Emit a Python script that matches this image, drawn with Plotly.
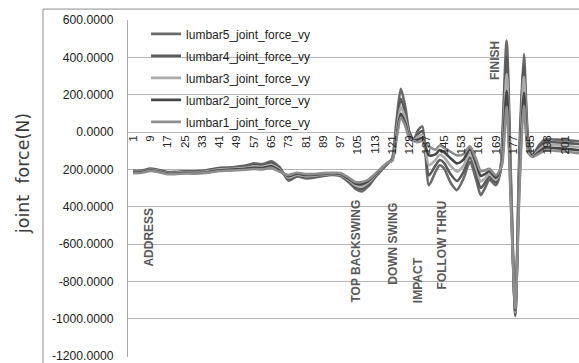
import plotly.graph_objects as go

# ---------------- data ----------------
frames = [1, 5, 9, 13, 17, 21, 25, 29, 33, 37, 41, 45, 49, 53, 57, 61, 65, 69, 73, 77,
          81, 85, 89, 93, 97, 101, 104, 107, 110, 113, 116, 119, 121, 123, 125, 127, 129,
          131, 133, 135, 138, 141, 143, 145, 148, 151, 154, 157, 160, 162, 164, 166, 169,
          171, 172, 174, 176, 178, 180, 182, 184, 186, 189, 192, 196, 200, 204, 208]

lumbar5 = [-208, -206, -196, -203, -214, -213, -210, -211, -208, -200, -192, -190, -186, -180,
           -168, -172, -157, -190, -260, -238, -248, -244, -236, -230, -236, -270, -305, -318,
           -290, -245, -205, -170, -140, 60, 231, 140, 0, -40, 10, 29, -285, -215, -178, -195,
           -270, -311, -250, -160, -260, -338, -300, -255, -285, -220, -20, 490, -250, -985,
           -60, 417, -40, -125, -70, -38, -40, -42, -46, -50]
lumbar4 = [-211, -209, -199, -206, -217, -216, -213, -214, -211, -204, -196, -194, -190, -186,
           -176, -179, -166, -196, -252, -233, -242, -239, -232, -227, -232, -264, -295, -305,
           -280, -240, -202, -168, -145, 25, 178, 105, -10, -42, -10, 5, -232, -180, -150, -165,
           -225, -262, -215, -135, -228, -300, -272, -240, -270, -215, -60, 400, -290, -975,
           -120, 350, -60, -127, -82, -52, -55, -57, -61, -65]
lumbar3 = [-214, -212, -202, -209, -220, -219, -216, -217, -214, -208, -200, -198, -195, -192,
           -184, -186, -175, -202, -244, -228, -236, -234, -228, -224, -228, -258, -285, -292,
           -270, -235, -199, -166, -150, 0, 135, 75, -20, -44, -25, -15, -178, -150, -122, -135,
           -180, -212, -180, -112, -198, -265, -248, -225, -256, -210, -100, 310, -330, -965,
           -180, 295, -80, -129, -95, -68, -70, -73, -77, -82]
lumbar2 = [-217, -215, -205, -212, -223, -222, -219, -220, -218, -212, -205, -203, -200, -197,
           -192, -193, -184, -208, -237, -223, -230, -229, -224, -221, -224, -252, -276, -280,
           -262, -230, -196, -164, -152, -25, 98, 50, -28, -46, -40, -32, -125, -120, -96, -108,
           -140, -168, -148, -92, -172, -235, -225, -210, -244, -205, -140, 220, -370, -955,
           -240, 210, -95, -131, -106, -83, -86, -89, -93, -98]
lumbar1 = [-220, -218, -208, -215, -226, -225, -222, -223, -221, -216, -209, -207, -205, -202,
           -198, -200, -192, -213, -230, -218, -225, -225, -220, -218, -220, -246, -268, -268,
           -255, -225, -193, -162, -155, -40, 78, 35, -35, -48, -55, -48, -77, -95, -72, -85,
           -105, -125, -118, -77, -150, -210, -205, -197, -232, -200, -170, 135, -400, -945,
           -290, 141, -110, -133, -116, -98, -100, -104, -108, -114]

series_names = ["lumbar5_joint_force_vy", "lumbar4_joint_force_vy", "lumbar3_joint_force_vy",
                "lumbar2_joint_force_vy", "lumbar1_joint_force_vy"]
series_values = [lumbar5, lumbar4, lumbar3, lumbar2, lumbar1]
series_colors = ["#6a6a6a", "#5a5a5a", "#ababab", "#474747", "#8e8e8e"]

x_tick_vals = [1, 9, 17, 25, 33, 41, 49, 57, 65, 73, 81, 89, 97, 105, 113, 121, 129, 137,
               145, 153, 161, 169, 177, 185, 193, 201, 209]
x_tick_labels = ["1", "9", "17", "25", "33", "41", "49", "57", "65", "73", "81", "89", "97",
                 "105", "113", "121", "129", "137", "145", "153", "161", "169", "177", "185",
                 "198", "201", "209"]

y_tick_vals = [600, 400, 200, 0, -200, -400, -600, -800, -1000, -1200]
y_tick_labels = ["600.0000", "400.0000", "200.0000", "0.0000", "200.0000", "400.0000",
                 "-600.0000", "-800.0000", "-1000.0000", "-1200.0000"]

event_labels = ["ADDRESS", "TOP BACKSWING", "DOWN SWING", "IMPACT", "FOLLOW THRU", "FINISH"]
event_x = [8.4, 103.8, 121.4, 132.9, 144.0, 168.6]
event_y = [-560, -640, -598, -794, -603, 385]

# ---------------- figure ----------------
FONT = "Liberation Sans, Arial, sans-serif"
Y_MIN, Y_MAX = -1205, 600
fig = go.Figure()
for i, (name, vals, col) in enumerate(zip(series_names, series_values, series_colors)):
    fig.add_trace(go.Scatter(
        x=frames, y=vals, name=name, mode="lines",
        line=dict(color=col, width=2.6, shape="spline", smoothing=0.7),
        legendgroup="g%d" % i,
    ))

for lab, ex, ey in zip(event_labels, event_x, event_y):
    fig.add_annotation(x=ex, y=ey, xref="x", yref="y", text=lab, showarrow=False,
                       xanchor="center", yanchor="middle",
                       textangle=-90, font=dict(family=FONT, size=12, color="#5a5a5a",
                                                weight="bold"))

fig.add_annotation(x=-0.231, y=0.545, xref="paper", yref="paper",
                   text="joint\u00a0\u00a0force(N)",
                   showarrow=False, textangle=-90, xanchor="center", yanchor="middle",
                   font=dict(family="DejaVu Sans, sans-serif", size=17.5, color="#3a3a3a"))

fig.add_shape(type="rect", xref="paper", yref="paper", x0=-0.1885, x1=1.2, y0=-0.2, y1=1.0324,
              line=dict(color="#8c8c8c", width=1), fillcolor="rgba(0,0,0,0)", layer="below")

fig.update_layout(
    width=579, height=363,
    margin=dict(l=128, r=0, t=20, b=3),
    paper_bgcolor="white", plot_bgcolor="white",
    font=dict(family=FONT, size=11, color="#222222"),
    showlegend=True,
    legend=dict(x=0.04, y=1.002, xanchor="left", yanchor="top",
                bgcolor="rgba(0,0,0,0)", font=dict(family=FONT, size=12, color="#222222"),
                traceorder="grouped", tracegroupgap=3),
    xaxis=dict(range=[-1.31, 207.5], showgrid=False, zeroline=False, showline=False,
               tickmode="array", tickvals=x_tick_vals, ticktext=x_tick_labels,
               tickangle=-90, anchor="free", position=-Y_MIN / (Y_MAX - Y_MIN), ticks="",
               tickfont=dict(family=FONT, size=11.5, color="#222222")),
    yaxis=dict(range=[Y_MIN, Y_MAX], domain=[0, 1], tickmode="array", tickvals=y_tick_vals,
               ticktext=y_tick_labels, showgrid=True, gridcolor="#b4b4b4", gridwidth=1,
               zeroline=False, showline=True, linecolor="#a8a8a8", linewidth=1,
               ticks="", ticklabelstandoff=11, ticklabeloverflow="allow",
               tickfont=dict(family=FONT, size=12.2, color="#222222")),
)

fig.write_html("out.html", config={"displayModeBar": False},
               post_script="document.body.style.margin='0';")
